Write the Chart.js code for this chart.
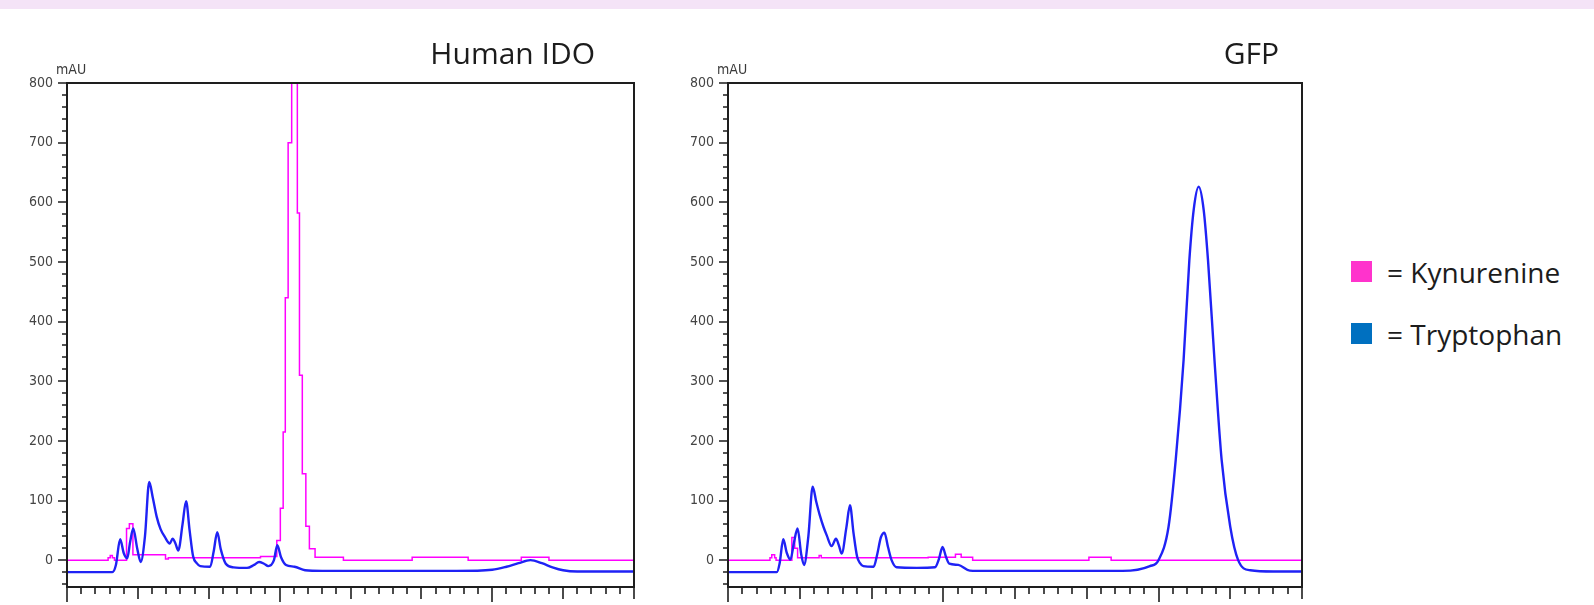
<!DOCTYPE html>
<html>
<head>
<meta charset="utf-8">
<script src="https://cdn.jsdelivr.net/npm/chart.js@4.4.1/dist/chart.umd.min.js"></script>
<style>
  html, body { margin: 0; padding: 0; background: #fff; }
  body { width: 1594px; height: 605px; position: relative; overflow: hidden; font-family: "Open Sans", "DejaVu Sans", sans-serif; color: #1c1c1c; }
  .band { position: absolute; left: 0; top: 0; width: 1594px; height: 9px; background: #f4e3f7; }
  .plot { position: absolute; top: 0; }
  .title { position: absolute; font-size: 30px; line-height: 30px; text-align: right; white-space: nowrap; }
  .key { position: absolute; left: 1351px; font-size: 28px; line-height: 28px; white-space: nowrap; }
  .key i { position: absolute; left: 0; width: 21px; height: 21px; }
  .key span { position: absolute; left: 36px; top: 0; }
</style>
</head>
<body>
<div class="band"></div>
<div class="plot" style="left:0;width:650px;height:605px"><canvas id="ido" width="650" height="605"></canvas></div>
<div class="plot" style="left:661px;width:660px;height:605px"><canvas id="gfp" width="660" height="605"></canvas></div>
<div class="title" style="left:395px;width:200px;top:38px">Human IDO</div>
<div class="title" style="left:1079px;width:200px;top:38px">GFP</div>
<div class="key" style="top:258px"><i style="top:3px;background:#ff33cc"></i><span>= Kynurenine</span></div>
<div class="key" style="top:320px"><i style="top:3px;background:#0070c0"></i><span>= Tryptophan</span></div>
<script>
// retention time (arbitrary units, 0-8 across the frame) and absorbance in mAU
const idoTrpTime = [0, 0.64, 0.69, 0.75, 0.80, 0.85, 0.89, 0.935, 0.99, 1.04, 1.10, 1.16, 1.21, 1.265, 1.32, 1.38, 1.45, 1.49, 1.53, 1.57, 1.63, 1.68, 1.73, 1.78, 1.83, 1.88, 2.02, 2.07, 2.12, 2.17, 2.24, 2.35, 2.54, 2.64, 2.71, 2.78, 2.84, 2.92, 2.967, 3.02, 3.09, 3.21, 3.36, 3.6, 4.5, 5.5, 6.0, 6.2, 6.37, 6.54, 6.7, 6.85, 7.0, 7.2, 8]
const idoTrpSignal = [-20, -20, -8, 35, 12, 3, 30, 53, 20, -3, 40, 131, 105, 73, 52, 39, 28, 36, 28, 16, 60, 99, 50, 6, -5, -10, -11, 15, 47, 18, -6, -12, -13, -8, -3, -6, -10, 0, 25, 5, -8, -11, -17, -18, -18, -18, -16, -11, -5, 0, -5, -12, -17, -19, -19]

const idoKynTime = [0, 0.58, 0.61, 0.64, 0.67, 0.84, 0.88, 0.93, 1.39, 1.43, 2.73, 2.96, 3.01, 3.05, 3.08, 3.12, 3.17, 3.25, 3.28, 3.32, 3.37, 3.42, 3.50, 3.90, 4.87, 5.66, 6.41, 6.80, 8]
const idoKynSignal = [0, 4, 8, 4, 0, 53, 61, 9, 2, 4, 6, 33, 87, 215, 440, 700, 900, 582, 310, 145, 57, 19, 5, 0, 5, 0, 5, 0, 0]

const gfpTrpTime = [0, 0.68, 0.72, 0.77, 0.82, 0.87, 0.92, 0.97, 1.02, 1.06, 1.12, 1.18, 1.23, 1.28, 1.33, 1.375, 1.445, 1.505, 1.545, 1.585, 1.65, 1.70, 1.75, 1.80, 1.84, 1.886, 2.03, 2.08, 2.13, 2.18, 2.23, 2.28, 2.35, 2.63, 2.885, 2.94, 2.99, 3.04, 3.085, 3.21, 3.37, 3.6, 4.5, 5.5, 5.88, 6.0, 6.14, 6.24, 6.35, 6.43, 6.49, 6.56, 6.63, 6.69, 6.78, 6.88, 7.0, 7.11, 7.28, 7.6, 8]
const gfpTrpSignal = [-20, -20, -5, 35, 12, 1, 30, 53, 10, -8, 40, 123, 98, 75, 56, 42, 23.5, 36, 25, 11, 55, 92, 45, 5.6, -5, -10, -11, 10, 38, 46, 22, 0, -12, -13, -12, 2, 22, 5, -6, -8, -17.5, -18, -18, -18, -10, 0, 56, 168, 336, 503, 587, 626, 587, 503, 336, 168, 56, 0, -17, -19, -19]

const gfpKynTime = [0, 0.585, 0.61, 0.65, 0.67, 0.89, 0.93, 0.97, 1.27, 1.30, 2.79, 3.17, 3.25, 3.41, 5.03, 5.34, 8]
const gfpKynSignal = [0, 4, 9, 4, 0, 38, 20, 4, 8, 4, 5, 10, 5, 0, 5, 0, 0]

const yTickLabels = ['0', '100', '200', '300', '400', '500', '600', '700', '800']

const TRP_COLOR = '#1f22f5'
const KYN_COLOR = '#ff00ff'
const NARROW = '"Liberation Sans Narrow", "DejaVu Sans Condensed", sans-serif'

const points = (t, v) => t.map((x, i) => ({ x, y: v[i] }))

// box around the plot, the instrument style tick marks and the unit label
const frameTicks = {
  id: 'frameTicks',
  afterDatasetsDraw(chart) {
    const { ctx, chartArea: a, scales: { x, y } } = chart
    ctx.save()
    ctx.strokeStyle = '#1e1e1e'
    ctx.lineWidth = 2
    ctx.strokeRect(a.left, a.top, a.right - a.left, a.bottom - a.top)
    ctx.lineWidth = 1.6
    ctx.beginPath()
    for (let v = -40; v <= 800; v += 20) {
      const py = Math.round(y.getPixelForValue(v))
      const len = v % 100 === 0 ? 9 : 5
      ctx.moveTo(a.left - len, py)
      ctx.lineTo(a.left, py)
    }
    for (let i = 0; i <= 40; i++) {
      const px = Math.round(x.getPixelForValue(i / 5))
      const len = i % 15 === 0 ? 15 : (i % 5 === 0 ? 12 : 7)
      ctx.moveTo(px, a.bottom)
      ctx.lineTo(px, a.bottom + len)
    }
    ctx.stroke()
    ctx.fillStyle = '#3a3a3a'
    ctx.font = '14px ' + NARROW
    ctx.textBaseline = 'alphabetic'
    ctx.fillText('mAU', a.left - 11, a.top - 9)
    ctx.restore()
  }
}

function makeChart(id, trpT, trpV, kynT, kynV, pad) {
  return new Chart(document.getElementById(id), {
    type: 'line',
    data: {
      datasets: [
        {
          label: 'Tryptophan',
          data: points(trpT, trpV),
          borderColor: TRP_COLOR,
          borderWidth: 2.4,
          pointRadius: 0,
          cubicInterpolationMode: 'monotone',
          tension: 0.4,
          order: 0
        },
        {
          label: 'Kynurenine',
          data: points(kynT, kynV),
          borderColor: KYN_COLOR,
          borderWidth: 1.5,
          pointRadius: 0,
          stepped: 'before',
          order: 1
        }
      ]
    },
    options: {
      responsive: false,
      animation: false,
      events: [],
      layout: { padding: pad },
      plugins: { legend: { display: false }, tooltip: { enabled: false } },
      scales: {
        x: { type: 'linear', min: 0, max: 8, display: false },
        y: {
          type: 'linear',
          min: -45,
          max: 800,
          afterFit: (scale) => { scale.width = 60 },
          grid: { display: false, drawTicks: true, tickLength: 11 },
          border: { display: false },
          ticks: {
            stepSize: 100,
            autoSkip: false,
            padding: 3,
            color: '#444',
            font: { family: NARROW, size: 14 },
            callback: (v) => yTickLabels.includes(String(v)) ? String(v) : ''
          }
        }
      }
    },
    plugins: [frameTicks]
  })
}

makeChart('ido', idoTrpTime, idoTrpSignal, idoKynTime, idoKynSignal, { left: 7, top: 83, right: 16, bottom: 18 })
makeChart('gfp', gfpTrpTime, gfpTrpSignal, gfpKynTime, gfpKynSignal, { left: 7, top: 83, right: 19, bottom: 18 })
</script>
</body>
</html>
